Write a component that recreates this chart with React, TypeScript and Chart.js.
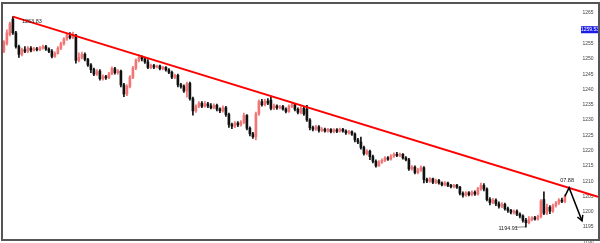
import React, { useEffect, useRef } from 'react';
import { Chart, registerables } from 'chart.js';

Chart.register(...registerables);

// ---- Data ----
const opens = [
  1252.5, 1255, 1258, 1263, 1258.5, 1254, 1251.5, 1253, 1252.5, 1253.5,
  1252.8, 1253.3, 1253, 1253.6, 1254, 1253.2, 1252.5, 1250.8, 1251.8, 1253.5,
  1255, 1256.5, 1257.5, 1257, 1257.8, 1249.5, 1250.5, 1251.5, 1249.8, 1248,
  1246.5, 1245, 1246, 1243.5, 1244.2, 1243.8, 1245, 1246.8, 1245.5, 1246,
  1241.5, 1238.5, 1241, 1244, 1247, 1249.5, 1250.5, 1250, 1249, 1247.2,
  1247.8, 1247.3, 1247.7, 1246.8, 1247.2, 1246.4, 1245.6, 1244, 1244.6, 1241.5,
  1241, 1239.5, 1242, 1237, 1233, 1234.5, 1235.5, 1234.5, 1235.3, 1234.6,
  1234, 1234.8, 1233.6, 1233, 1234, 1231.8, 1228.5, 1228, 1229, 1228.4,
  1229.2, 1231.5, 1227.3, 1225.5, 1224.5, 1232, 1236, 1235, 1236.2, 1236.5,
  1233.8, 1234.6, 1234, 1234.4, 1233.6, 1232.8, 1234.5, 1235, 1233.5, 1232.5,
  1233.8, 1233.5, 1230, 1227.5, 1227, 1227.8, 1226.6, 1227, 1226.4, 1226.9,
  1226.2, 1226.8, 1226.3, 1227, 1226.4, 1225.8, 1226.2, 1225.4, 1223.5, 1222.8,
  1221, 1219, 1219.8, 1218, 1216.5, 1215, 1216.2, 1216.8, 1217.6, 1217.2,
  1218.2, 1218.8, 1218.4, 1218.8, 1217.6, 1217, 1214, 1214.6, 1212.8, 1213.6,
  1214.4, 1210.5, 1210, 1210.8, 1209.6, 1210.2, 1209.4, 1208.8, 1209.4, 1208.6,
  1208.2, 1208.7, 1208, 1206, 1205.4, 1206.2, 1205.6, 1206.4, 1205.8, 1207.5,
  1208.6, 1207.4, 1204, 1203, 1203.8, 1202.6, 1201.8, 1202.4, 1201, 1200.4,
  1199.8, 1200.2, 1199.2, 1198.6, 1197.2, 1196.4, 1197.4, 1198, 1197.6, 1198.4,
  1204, 1199.5, 1201.5, 1200.2, 1202, 1202.8, 1203.8, 1203.4,
];
const highs = [
  1256, 1259.5, 1262, 1263.83, 1259, 1254.5, 1253.5, 1254, 1254, 1254,
  1253.8, 1253.8, 1254, 1254.5, 1254.4, 1253.6, 1253, 1252.3, 1254, 1255.5,
  1257, 1258.3, 1258.6, 1258.8, 1258, 1252, 1252.2, 1252, 1250.2, 1248.5,
  1247, 1246.5, 1246.5, 1244.8, 1244.6, 1245.6, 1247.4, 1247.2, 1246.5, 1246.3,
  1242, 1241.5, 1244.5, 1247.6, 1250, 1251.3, 1251, 1250.5, 1249.8, 1248.3,
  1248.2, 1248, 1248, 1247.6, 1247.5, 1246.8, 1246, 1245, 1245, 1242,
  1241.5, 1242.4, 1242.4, 1237.5, 1235, 1236, 1236, 1236, 1235.8, 1235.4,
  1235.3, 1235.2, 1234, 1234.6, 1234.5, 1232.3, 1229, 1229.5, 1229.5, 1229.8,
  1232.3, 1231.8, 1227.8, 1226, 1232.6, 1236.6, 1236.8, 1236.8, 1237, 1237.6,
  1235.2, 1235, 1234.8, 1234.8, 1234, 1235, 1235.5, 1235.4, 1234, 1234.4,
  1234.2, 1234.8, 1230.5, 1228, 1228.3, 1228.2, 1227.5, 1227.4, 1227.3, 1227.2,
  1227.2, 1227.2, 1227.4, 1227.3, 1226.8, 1226.6, 1226.5, 1225.8, 1224, 1224.4,
  1221.5, 1220.3, 1220.2, 1218.5, 1217, 1216.7, 1217.3, 1218, 1218, 1218.7,
  1219.3, 1219.4, 1219.2, 1219, 1218, 1217.5, 1215.1, 1215, 1214.2, 1215,
  1214.8, 1211, 1211.2, 1211, 1210.7, 1210.6, 1209.8, 1209.9, 1209.7, 1209,
  1209, 1209, 1208.3, 1206.5, 1206.6, 1206.6, 1206.8, 1206.8, 1208, 1209.4,
  1209.2, 1207.8, 1204.6, 1204.4, 1204.2, 1203.2, 1203, 1202.8, 1201.5, 1200.8,
  1200.6, 1200.6, 1199.6, 1199, 1197.8, 1198.4, 1198.4, 1198.5, 1198.9, 1204,
  1206.5, 1202.5, 1202, 1202.5, 1203.4, 1204.3, 1204.5, 1205.5,
];
const lows = [
  1252, 1254.5, 1257.5, 1258, 1253.5, 1250.5, 1251, 1252, 1252, 1252.3,
  1252.5, 1252.6, 1252.7, 1253.2, 1252.8, 1252, 1250.3, 1250.5, 1251.5, 1253,
  1254.5, 1256, 1256.5, 1256.6, 1248.6, 1249, 1250, 1249.3, 1247.5, 1245.5,
  1244.5, 1244.6, 1243, 1243, 1243.3, 1243.5, 1244.8, 1245, 1245, 1240.8,
  1237.6, 1238, 1240.5, 1243.5, 1246.5, 1249, 1249.3, 1248.5, 1246.8, 1246.8,
  1246.8, 1247, 1246.4, 1246.4, 1246, 1245.2, 1243.5, 1243.5, 1240.8, 1240.4,
  1239, 1237.5, 1236.5, 1231.6, 1232.5, 1234, 1234, 1234.2, 1234, 1233.6,
  1233.6, 1233, 1232.4, 1232.6, 1231.2, 1227.6, 1227.2, 1227.5, 1227.8, 1228,
  1228.8, 1226.8, 1224.8, 1224, 1223.5, 1231.5, 1234.5, 1234.6, 1235, 1233.3,
  1233.4, 1233.5, 1233.6, 1233.2, 1232.3, 1232.5, 1234, 1233, 1232, 1232,
  1231.5, 1229.5, 1226.8, 1226.4, 1226.6, 1226, 1226.2, 1226, 1226, 1225.8,
  1225.8, 1225.9, 1226, 1226, 1225.3, 1225.4, 1225, 1222.8, 1222.3, 1220.5,
  1218.5, 1218.6, 1217, 1216, 1214.6, 1214.8, 1215.8, 1216.4, 1216.8, 1216.9,
  1217.8, 1218, 1218, 1217.2, 1216.6, 1213.5, 1213.6, 1212.4, 1212.4, 1213.2,
  1209.4, 1209.5, 1209.6, 1209.2, 1209.2, 1209, 1208.4, 1208.4, 1208.2, 1207.8,
  1207.8, 1207.6, 1205.5, 1204.8, 1205, 1205.2, 1205.2, 1205.3, 1205.4, 1207,
  1206.8, 1203.5, 1202.2, 1202.6, 1202, 1201.2, 1201.3, 1200.5, 1199.8, 1199.3,
  1199.2, 1198.7, 1198, 1196.6, 1194.91, 1196, 1197, 1197.2, 1197.2, 1198,
  1199, 1199, 1199.4, 1199.8, 1201.5, 1202.4, 1203, 1203,
];
const closes = [
  1255.5, 1258.5, 1261.5, 1258.5, 1254, 1251.5, 1253, 1252.5, 1253.5, 1252.8,
  1253.3, 1253, 1253.6, 1254, 1253.2, 1252.5, 1250.8, 1251.8, 1253.5, 1255,
  1256.5, 1257.8, 1257, 1258.2, 1249.5, 1250.5, 1251.5, 1249.8, 1248, 1246.5,
  1245, 1245.8, 1243.5, 1244.2, 1243.8, 1245, 1246.8, 1245.5, 1246, 1241.5,
  1238.5, 1241, 1244, 1247, 1249.5, 1250.5, 1250, 1249, 1247.2, 1247.8,
  1247.3, 1247.7, 1246.8, 1247.2, 1246.4, 1245.6, 1244, 1244.6, 1241.5, 1241,
  1239.5, 1241.8, 1237, 1233, 1234.5, 1235.5, 1234.5, 1235.3, 1234.6, 1234,
  1234.8, 1233.6, 1233, 1234, 1231.8, 1228.5, 1228, 1229, 1228.4, 1229.2,
  1231.5, 1227.3, 1225.5, 1224.5, 1232, 1236, 1235, 1236.2, 1235.5, 1233.8,
  1234.6, 1234, 1234.4, 1233.6, 1232.8, 1234.5, 1235, 1233.5, 1232.5, 1233.8,
  1232, 1230, 1227.5, 1227, 1227.8, 1226.6, 1227, 1226.4, 1226.9, 1226.2,
  1226.8, 1226.3, 1227, 1226.4, 1225.8, 1226.2, 1225.4, 1223.5, 1222.8, 1221,
  1219, 1219.8, 1218, 1216.5, 1215, 1216.2, 1216.8, 1217.6, 1217.2, 1218.2,
  1218.8, 1218.4, 1218.8, 1217.6, 1217, 1214, 1214.6, 1212.8, 1213.6, 1214.4,
  1210.5, 1210, 1210.8, 1209.6, 1210.2, 1209.4, 1208.8, 1209.4, 1208.6, 1208.2,
  1208.7, 1208, 1206, 1205.4, 1206.2, 1205.6, 1206.4, 1205.8, 1207.5, 1208.6,
  1207.4, 1204, 1203, 1203.8, 1202.6, 1201.8, 1202.4, 1201, 1200.4, 1199.8,
  1200.2, 1199.2, 1198.6, 1197.2, 1196.4, 1197.4, 1198, 1197.6, 1198.4, 1203.5,
  1199.5, 1201.5, 1200.2, 1202, 1202.8, 1203.8, 1203.4, 1205,
];

const yTickValues = [1190, 1195, 1200, 1205, 1210, 1215, 1220, 1225, 1230, 1235, 1240, 1245, 1250, 1255, 1260, 1265];

// trend line (bar index, price)
const trendIndex = [3, 198.03];
const trendPrice = [1263.83, 1204.85];

// projection arrow (bar index, price)
const arrowIndex = [187, 188.4, 192.7];
const arrowPrice = [1205, 1207.88, 1197];

const peakLabel = '1263.83';
const peakIndex = 3;
const peakPrice = 1263.83;
const lowLabel = '1194.91';
const lowIndex = 174;
const lowPrice = 1194.91;
const arrowLabel = '07.88';
const markerPrice = 1259.53;
const markerLabel = '1259.53';

const X_MIN = -0.3;
const X_MAX = 198.03;
const Y_MIN = 1190.75;
const Y_MAX = 1267.95;

const UP = '#f27474';
const DOWN = '#111111';
const FONT = '"Liberation Sans", Arial, sans-serif';

const overlay = {
  id: 'overlay',
  afterDatasetsDraw(chart: any) {
    const { ctx } = chart;
    const xs = chart.scales.x;
    const ys = chart.scales.y;
    ctx.save();
    // arrowhead
    const n = arrowIndex.length;
    const tx = xs.getPixelForValue(arrowIndex[n - 1]);
    const ty = ys.getPixelForValue(arrowPrice[n - 1]);
    const fx = xs.getPixelForValue(arrowIndex[n - 2]);
    const fy = ys.getPixelForValue(arrowPrice[n - 2]);
    const ang = Math.atan2(ty - fy, tx - fx);
    const L = 6;
    const sp = 0.5;
    ctx.strokeStyle = '#000';
    ctx.lineWidth = 1.5;
    ctx.beginPath();
    ctx.moveTo(tx - L * Math.cos(ang - sp), ty - L * Math.sin(ang - sp));
    ctx.lineTo(tx, ty);
    ctx.lineTo(tx - L * Math.cos(ang + sp), ty - L * Math.sin(ang + sp));
    ctx.stroke();

    // annotations
    ctx.font = `5.5px ${FONT}`;
    ctx.fillStyle = '#222';
    ctx.textBaseline = 'middle';
    const px = xs.getPixelForValue(peakIndex);
    const py = ys.getPixelForValue(peakPrice);
    ctx.textAlign = 'left';
    ctx.fillText(peakLabel, px + 9, py + 4.5);

    const lx = xs.getPixelForValue(lowIndex);
    const ly = ys.getPixelForValue(lowPrice);
    ctx.textAlign = 'right';
    ctx.fillText(lowLabel, lx - 8, ly + 1.5);
    ctx.strokeStyle = '#333';
    ctx.lineWidth = 0.6;
    ctx.beginPath();
    ctx.moveTo(lx - 11, ly);
    ctx.lineTo(lx, ly - 0.5);
    ctx.stroke();

    const ax = xs.getPixelForValue(arrowIndex[1]);
    const ay = ys.getPixelForValue(arrowPrice[1]);
    ctx.textAlign = 'center';
    ctx.fillText(arrowLabel, ax - 2, ay - 7);
    ctx.restore();
  },
  afterDraw(chart: any) {
    const { ctx } = chart;
    const ys = chart.scales.y;
    ctx.save();
    const my = ys.getPixelForValue(markerPrice);
    ctx.fillStyle = '#1c1ce8';
    ctx.fillRect(581, my - 3.5, 18, 7);
    ctx.fillStyle = '#ffffff';
    ctx.font = `5px ${FONT}`;
    ctx.textAlign = 'center';
    ctx.textBaseline = 'middle';
    ctx.fillText(markerLabel, 590, my);
    ctx.strokeStyle = '#555';
    ctx.lineWidth = 2;
    ctx.strokeRect(2, 3, 597, 237);
    ctx.restore();
  },
};

export default function App() {
  const ref = useRef<HTMLCanvasElement>(null);
  useEffect(() => {
    const idx = closes.map((_, i) => i);
    const colors = idx.map((i) => (closes[i] >= opens[i] ? UP : DOWN));
    const chart = new Chart(ref.current as HTMLCanvasElement, {
      type: 'bar',
      data: {
        datasets: [
          {
            type: 'bar',
            data: idx.map((i) => ({ x: i, y: [lows[i], highs[i]] })) as any,
            backgroundColor: colors,
            borderWidth: 0,
            barThickness: 1,
            grouped: false,
            order: 4,
          } as any,
          {
            type: 'bar',
            data: idx.map((i) => ({ x: i, y: [opens[i], closes[i]] })) as any,
            backgroundColor: colors,
            borderWidth: 0,
            barThickness: 2,
            grouped: false,
            order: 3,
          } as any,
          {
            type: 'line',
            data: trendIndex.map((x, k) => ({ x, y: trendPrice[k] })),
            borderColor: '#ff0000',
            borderWidth: 2,
            pointRadius: 0,
            order: 2,
          } as any,
          {
            type: 'line',
            data: arrowIndex.map((x, k) => ({ x, y: arrowPrice[k] })),
            borderColor: '#000000',
            borderWidth: 1.5,
            pointRadius: 0,
            order: 1,
          } as any,
        ],
      },
      options: {
        animation: false,
        responsive: false,
        maintainAspectRatio: false,
        layout: { padding: { left: 3, right: 2, top: 4, bottom: 3 } },
        plugins: { legend: { display: false }, tooltip: { enabled: false } },
        scales: {
          x: { type: 'linear', min: X_MIN, max: X_MAX, display: false, offset: false },
          y: {
            type: 'linear',
            position: 'right',
            min: Y_MIN,
            max: Y_MAX,
            grid: { display: false, drawTicks: false },
            border: { display: false },
            afterFit: (s: any) => {
              s.width = 0;
            },
            afterBuildTicks: (s: any) => {
              s.ticks = yTickValues.map((v) => ({ value: v }));
            },
            ticks: {
              mirror: true,
              padding: -4.5,
              color: '#444',
              font: { size: 5, family: FONT },
              callback: (v: any) => String(v),
            },
          },
        },
      } as any,
      plugins: [overlay],
    });
    return () => chart.destroy();
  }, []);
  return (
    <div style={{ position: 'absolute', left: 0, top: 0, width: 600, height: 243, background: '#fff' }}>
      <canvas ref={ref} width={600} height={243} style={{ display: 'block' }} />
    </div>
  );
}
